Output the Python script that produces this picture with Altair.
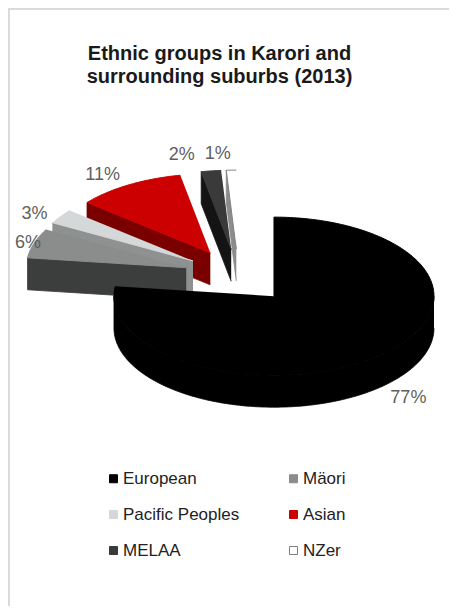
import numpy as np
import pandas as pd
import altair as alt

# ---- data ----
groups = ["European", "Mäori", "Pacific Peoples", "Asian", "MELAA", "NZer"]
shares = [77, 6, 3, 11, 2, 1]
pct_labels = ["77%", "6%", "3%", "11%", "2%", "1%"]
top_colors = ["#000000", "#8a8d8c", "#d5d8d8", "#cc0000", "#3a3a3a", "#ffffff"]
side_colors = ["#000000", "#3c3e3d", "#8e9190", "#7a0000", "#141414", "#8c8c8c"]
edge_colors = ["#000000", "#8a8d8c", "#d5d8d8", "#cc0000", "#3a3a3a", "#7f7f7f"]
title_lines = ["Ethnic groups in Karori and", "surrounding suburbs (2013)"]

# ---- 3-D pie geometry (unit radius ellipse) ----
TILT = 0.494      # vertical / horizontal radius
DEPTH = 0.2       # thickness of the pie
EXPLODE = 0.34    # explosion of every slice
PX = 160.0        # pixels per unit
FS = 18           # label font size
W, H = 441, 498
X0, Y0 = 230.0, 168.0   # pie origin inside the view (pixels)
U_MIN = (7 - X0) / PX   # labels are kept inside the chart area

total = float(sum(shares))
cum = np.concatenate([[0.0], np.cumsum(shares)]) / total * 360.0


def rim(cx, cy, deg, drop=0.0):
    r = np.radians(deg)
    return cx + np.sin(r), cy + TILT * np.cos(r) - drop


def text_w(t):
    return FS * (0.556 * (len(t) - 1) + 0.889) / PX


slices = []
for k, g in enumerate(groups):
    s, e = cum[k], cum[k + 1]
    m = np.radians((s + e) / 2)
    cx, cy = EXPLODE * np.sin(m), EXPLODE * TILT * np.cos(m)
    slices.append(dict(k=k, g=g, s=s, e=e, m=m, cx=cx, cy=cy))
# paint back-to-front
slices.sort(key=lambda d: -d["cy"])

side_rows, top_rows, label_rows = [], [], []
pid = 0
for d in slices:
    k, s, e, cx, cy = d["k"], d["s"], d["e"], d["cx"], d["cy"]
    polys = []
    if np.sin(np.radians(s)) < -1e-9:
        x1, y1 = rim(cx, cy, s)
        x2, y2 = rim(cx, cy, s, DEPTH)
        polys.append([(cx, cy), (x1, y1), (x2, y2), (cx, cy - DEPTH)])
    if np.sin(np.radians(e)) > 1e-9:
        x1, y1 = rim(cx, cy, e)
        x2, y2 = rim(cx, cy, e, DEPTH)
        polys.append([(cx, cy), (x1, y1), (x2, y2), (cx, cy - DEPTH)])
    lo, hi = max(s, 90.0), min(e, 270.0)
    if hi > lo:
        ts = np.linspace(lo, hi, int(hi - lo) + 2)
        pts = [rim(cx, cy, t) for t in ts] + [rim(cx, cy, t, DEPTH) for t in ts[::-1]]
        polys.append(pts)
    for p in polys:
        for i, (x, y) in enumerate(p):
            side_rows.append(dict(poly=f"s{pid:03d}", i=i, x=x, y=y, col=side_colors[k]))
        pid += 1
    ts = np.linspace(s, e, max(3, int(e - s) + 2))
    pts = [(cx, cy)] + [rim(cx, cy, t) for t in ts]
    for i, (x, y) in enumerate(pts):
        top_rows.append(dict(poly=f"t{pid:03d}", i=i, x=x, y=y, group=groups[k]))
    pid += 1
    # outside-end label: just beyond the rim at the mid angle
    m = d["m"]
    sm, cm = np.sin(m), np.cos(m)
    rx, ry = cx + sm, cy + TILT * cm - (DEPTH if cm < 0 else 0.0)
    w = text_w(pct_labels[k])
    lx = rx + np.sign(sm) * w / 2 + 16 * sm / PX
    ly = ry + (16 * cm ** 3 if cm > 0 else 14 * cm) / PX
    lx = max(lx, U_MIN + w / 2)
    label_rows.append(dict(label=pct_labels[k], lx=lx, ly=ly, w=w))

# simple overlap removal: push the left one of two colliding labels further left
GAP = 10 / PX
for _ in range(5):
    L = sorted(label_rows, key=lambda r: -r["lx"])
    for a_i, ra in enumerate(L):
        for rb in L[a_i + 1:]:
            if abs(ra["ly"] - rb["ly"]) * PX < FS:
                limit = ra["lx"] - ra["w"] / 2 - GAP - rb["w"] / 2
                if rb["lx"] > limit:
                    rb["lx"] = limit

sides = pd.DataFrame(side_rows)
tops = pd.DataFrame(top_rows)
labs = pd.DataFrame(label_rows)

xs = alt.Scale(domain=[-X0 / PX, (W - X0) / PX], nice=False, zero=False)
ys = alt.Scale(domain=[(Y0 - H) / PX, Y0 / PX], nice=False, zero=False)

# legend is filled column by column: reorder so it reads row by row
ncol = 2
nrow = int(np.ceil(len(groups) / ncol))
leg_idx = [r * ncol + c for c in range(ncol) for r in range(nrow) if r * ncol + c < len(groups)]
leg_domain = [groups[i] for i in leg_idx]
leg_fill = [top_colors[i] for i in leg_idx]
leg_stroke = [edge_colors[i] for i in leg_idx]

side_layer = alt.Chart(sides).mark_line(strokeWidth=0.8, strokeJoin="round").encode(
    x=alt.X("x:Q", scale=xs, axis=None),
    y=alt.Y("y:Q", scale=ys, axis=None),
    order=alt.Order("i:Q"),
    detail="poly:N",
    fill=alt.Fill("col:N", scale=None),
    stroke=alt.Stroke("col:N", scale=None),
)

top_layer = alt.Chart(tops).mark_line(strokeWidth=1, strokeJoin="round").encode(
    x=alt.X("x:Q", scale=xs, axis=None),
    y=alt.Y("y:Q", scale=ys, axis=None),
    order=alt.Order("i:Q"),
    detail="poly:N",
    fill=alt.Fill("group:N", scale=alt.Scale(domain=leg_domain, range=leg_fill),
                  legend=alt.Legend(title=None)),
    stroke=alt.Stroke("group:N", scale=alt.Scale(domain=leg_domain, range=leg_stroke),
                      legend=alt.Legend(title=None)),
)

labels = alt.Chart(labs).mark_text(
    align="center", baseline="middle", font="Liberation Sans", fontSize=FS, color="#5f5f5f"
).encode(
    x=alt.X("lx:Q", scale=xs, axis=None),
    y=alt.Y("ly:Q", scale=ys, axis=None),
    text="label:N",
)

frame = pd.DataFrame({"k": [0]})
top_rule = alt.Chart(frame).mark_rule(color="#dadada", strokeWidth=2).encode(
    x=alt.value(0), x2=alt.value(W), y=alt.value(-99))
left_rule = alt.Chart(frame).mark_rule(color="#dadada", strokeWidth=2).encode(
    x=alt.value(1), y=alt.value(-100), y2=alt.value(H))

chart = alt.layer(top_rule, left_rule, side_layer, top_layer, labels).resolve_scale(
    fill="independent", stroke="independent"
).properties(
    width=W, height=H,
    autosize=alt.AutoSizeParams(type="none"),
    padding={"left": 0, "top": 100, "right": 0, "bottom": 0},
    title=alt.Title(title_lines, fontSize=20, font="Liberation Sans", fontWeight="bold",
                    color="#1a1a1a", anchor="middle", frame="group", dx=-9, offset=-80,
                    lineHeight=23),
    background="white",
).configure_view(stroke=None).configure_legend(
    orient="none", legendX=97, legendY=362, columns=ncol, symbolType="square",
    symbolSize=64, symbolStrokeWidth=1, labelFont="Liberation Sans", labelFontSize=17,
    labelColor="#222222", labelOffset=1, columnPadding=45, rowPadding=18, padding=0,
)

chart.save("out.html", embed_options={"renderer": "svg", "actions": False})
